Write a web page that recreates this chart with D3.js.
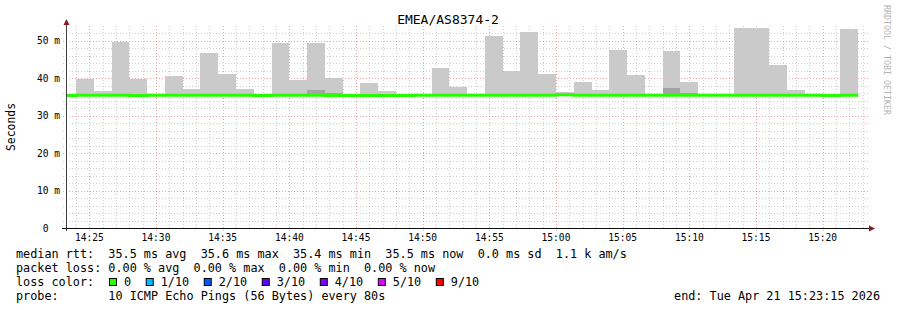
<!DOCTYPE html>
<html><head><meta charset="utf-8">
<script src="https://cdn.jsdelivr.net/npm/d3@7"></script>
<style>
html,body{margin:0;padding:0;background:#fff;}
svg{display:block;}
text{font-family:"DejaVu Sans Mono",monospace;white-space:pre;}
</style></head><body><svg id="chart" width="897" height="310"></svg>
<script>
// ---------------- data ----------------
const chartTitle = "EMEA/AS8374-2";
const yAxisLabel = "Seconds";
const watermark = "RRDTOOL / TOBI OETIKER";
const stepSeconds = 80;
const firstBinStart = new Date(2026, 3, 21, 14, 22, 40);
const viewStart = new Date(2026, 3, 21, 14, 23, 15);
const viewEnd = new Date(2026, 3, 21, 15, 23, 15);
// one value per 80 s bin, in milliseconds
const medianMs = [35.4,
  35.5, 35.5, 35.5, 35.4, 35.5, 35.5, 35.5, 35.5, 35.5, 35.5,
  35.4, 35.5, 35.5, 35.5, 35.4, 35.4, 35.4, 35.4, 35.4, 35.5,
  35.5, 35.5, 35.5, 35.5, 35.5, 35.5, 35.5, 35.64, 35.5, 35.5,
  35.5, 35.5, 35.5, 35.5, 35.5, 35.5, 35.5, 35.5, 35.5, 35.5,
  35.5, 35.5, 35.4, 35.5];
const maxPingMs = [35.6,
  39.9, 36.6, 49.8, 39.9, 35.7, 40.6, 37.2, 46.9, 41.2, 37.2,
  35.7, 49.5, 39.6, 49.5, 40.0, 35.6, 38.8, 36.6, 35.6, 35.6,
  42.8, 37.7, 35.6, 51.2, 42.0, 52.4, 41.2, 36.4, 39.0, 36.9,
  47.6, 40.9, 35.6, 47.3, 39.0, 35.6, 35.6, 53.5, 53.5, 43.6,
  36.9, 35.6, 35.5, 53.2];
const secondPingMs = [35.4,
  35.5, 35.5, 35.5, 35.4, 35.5, 35.5, 35.5, 35.5, 35.5, 35.5,
  35.4, 35.5, 35.5, 36.9, 36.1, 35.4, 35.4, 35.4, 35.4, 35.5,
  35.5, 35.5, 35.5, 35.5, 35.5, 35.5, 35.5, 35.64, 35.5, 35.5,
  35.5, 35.5, 35.5, 37.4, 36.1, 35.5, 35.5, 35.5, 35.5, 35.5,
  35.5, 35.5, 35.4, 35.5];
const yTickValues = [0, 10, 20, 30, 40, 50];
const yTickLabels = ["0  ", "10 m", "20 m", "30 m", "40 m", "50 m"];
const rttStatValues = ["35.5", "35.6", "35.4", "35.5"];
const rttStatNames = ["avg", "max", "min", "now"];
const rttSd = "0.0";
const rttAmps = "1.1 k";
const lossStatValues = ["0.00", "0.00", "0.00", "0.00"];
const lossLabels = ["0", "1/10", "2/10", "3/10", "4/10", "5/10", "9/10"];
const lossColors = ["#26ff00", "#00b8ff", "#0059ff", "#5e00ff", "#7e00ff", "#dd00ff", "#ff0000"];
const probeText = "10 ICMP Echo Pings (56 Bytes) every 80s";
const endText = "end: Tue Apr 21 15:23:15 2026";

// ---------------- drawing ----------------
const svg = d3.select("#chart");
const X0 = 66, X1 = 866, YB = 228, YT = 26;
const x = d3.scaleTime().domain([viewStart, viewEnd]).range([X0, X1]);
const y = d3.scaleLinear().domain([0, 54]).range([YB, YT]);

const gridCol = "rgba(143,143,143,0.42)";
const mgridCol = "rgba(222,80,80,0.5)";

svg.append("rect").attr("width", 897).attr("height", 310).attr("fill", "#fff");

svg.append("defs").append("clipPath").attr("id", "plotclip")
  .append("rect").attr("x", X0).attr("y", YT - 2).attr("width", X1 - X0).attr("height", YB - YT + 2);

// grid
const grid = svg.append("g");
const minutes = d3.timeMinute.range(viewStart, viewEnd);
minutes.forEach(t => {
  const major = t.getMinutes() % 5 === 0;
  const xp = Math.round(x(t)) + 0.5;
  grid.append("line").attr("x1", xp).attr("x2", xp).attr("y1", YT).attr("y2", YB + (major ? 3 : 2))
    .attr("stroke", major ? mgridCol : gridCol).attr("stroke-width", 1)
    .attr("stroke-dasharray", "1,2");
});
d3.range(2, 54, 2).forEach(v => {
  const major = v % 10 === 0;
  const yp = Math.round(y(v)) + 0.5;
  grid.append("line").attr("x1", X0 - 3).attr("x2", X1 + 2).attr("y1", yp).attr("y2", yp)
    .attr("stroke", major ? mgridCol : gridCol).attr("stroke-width", 1)
    .attr("stroke-dasharray", "1,2");
});

// smoke
const plot = svg.append("g").attr("clip-path", "url(#plotclip)");
const bins = medianMs.map((m, i) => ({
  t0: d3.timeSecond.offset(firstBinStart, i * stepSeconds),
  t1: d3.timeSecond.offset(firstBinStart, (i + 1) * stepSeconds),
  med: m, max: maxPingMs[i], p2: secondPingMs[i]
}));
plot.selectAll("rect.smoke").data(bins).join("rect").attr("class", "smoke")
  .attr("x", d => x(d.t0)).attr("width", d => x(d.t1) - x(d.t0))
  .attr("y", d => y(d.max)).attr("height", d => Math.max(0, y(d.med) - y(d.max)))
  .attr("fill", "#cacaca").attr("shape-rendering", "crispEdges");
plot.selectAll("rect.smoke2").data(bins.filter(d => d.p2 > d.med)).join("rect").attr("class", "smoke2")
  .attr("x", d => x(d.t0)).attr("width", d => x(d.t1) - x(d.t0))
  .attr("y", d => y(d.p2)).attr("height", d => Math.max(0, y(d.med) - y(d.p2)))
  .attr("fill", "#a4a4a4").attr("shape-rendering", "crispEdges");

// median line
const pts = bins.map(d => [d.t0, d.med]);
pts.push([bins[bins.length - 1].t1, bins[bins.length - 1].med]);
plot.append("path").attr("d", d3.line().x(d => x(d[0])).y(d => y(d[1])).curve(d3.curveStepAfter)(pts))
  .attr("fill", "none").attr("stroke", lossColors[0]).attr("stroke-width", 3);

// axes
svg.append("line").attr("x1", X0 + 0.5).attr("x2", X0 + 0.5).attr("y1", YB + 3).attr("y2", 23)
  .attr("stroke", "#404040").attr("stroke-width", 1);
svg.append("line").attr("x1", X0 - 4).attr("x2", X1 + 4).attr("y1", YB + 0.5).attr("y2", YB + 0.5)
  .attr("stroke", "#101010").attr("stroke-width", 1);
svg.append("path").attr("d", `M${X0 + 0.5},19 L${X0 + 3.5},25 L${X0 - 2.5},25 Z`).attr("fill", "#8b1a1a");
svg.append("path").attr("d", `M${X1 + 9},${YB + 0.5} L${X1 + 3},${YB - 2.5} L${X1 + 3},${YB + 3.5} Z`).attr("fill", "#8b1a1a");

// y tick labels
svg.selectAll("text.ytick").data(yTickValues).join("text").attr("class", "ytick")
  .attr("x", 60).attr("y", v => y(v) + 3.5).attr("text-anchor", "end")
  .attr("font-size", "9.6px").attr("fill", "#000").text((v, i) => yTickLabels[i]);

// x tick labels
const majorTimes = minutes.filter(t => t.getMinutes() % 5 === 0);
const fmt = d3.timeFormat("%H:%M");
svg.selectAll("text.xtick").data(majorTimes).join("text").attr("class", "xtick")
  .attr("x", t => x(t)).attr("y", 241).attr("text-anchor", "middle")
  .attr("font-size", "9.6px").attr("fill", "#000").text(fmt);

// title, labels
svg.append("text").attr("x", 448).attr("y", 24).attr("text-anchor", "middle")
  .attr("font-size", "13px").attr("fill", "#000").text(chartTitle);
svg.append("text").attr("transform", "translate(15,127) rotate(-90)").attr("text-anchor", "middle")
  .attr("font-size", "11.4px").attr("fill", "#000").text(yAxisLabel);
svg.append("text").attr("transform", "translate(884,5) rotate(90)").attr("text-anchor", "start")
  .attr("font-size", "8.3px").attr("fill", "#b4b4b4").text(watermark);

// legend
const LF = "11.8px";
const line1 = "median rtt:  " + rttStatValues.map((v, i) => v + " ms " + rttStatNames[i]).join("  ")
  + "  " + rttSd + " ms sd  " + rttAmps + " am/s";
const line2 = "packet loss: " + lossStatValues.map((v, i) => v + " % " + rttStatNames[i]).join("  ");
svg.append("text").attr("x", 16).attr("y", 258).attr("font-size", LF).attr("fill", "#000").text(line1);
svg.append("text").attr("x", 16).attr("y", 272).attr("font-size", LF).attr("fill", "#000").text(line2);
svg.append("text").attr("x", 16).attr("y", 286).attr("font-size", LF).attr("fill", "#000").text("loss color:");
let bx = 109;
lossLabels.forEach((lab, i) => {
  svg.append("rect").attr("x", bx + 0.5).attr("y", 278.5).attr("width", 7).attr("height", 7)
    .attr("fill", lossColors[i]).attr("stroke", "#000").attr("stroke-width", 1);
  const t = svg.append("text").attr("x", bx + 15).attr("y", 286).attr("font-size", LF).attr("fill", "#000").text(lab);
  bx = bx + 15 + t.node().getComputedTextLength() + 14.6;
});
svg.append("text").attr("x", 16).attr("y", 300).attr("font-size", LF).attr("fill", "#000").text("probe:       " + probeText);
svg.append("text").attr("x", 880).attr("y", 300).attr("text-anchor", "end").attr("font-size", LF).attr("fill", "#000").text(endText);
</script></body></html>
